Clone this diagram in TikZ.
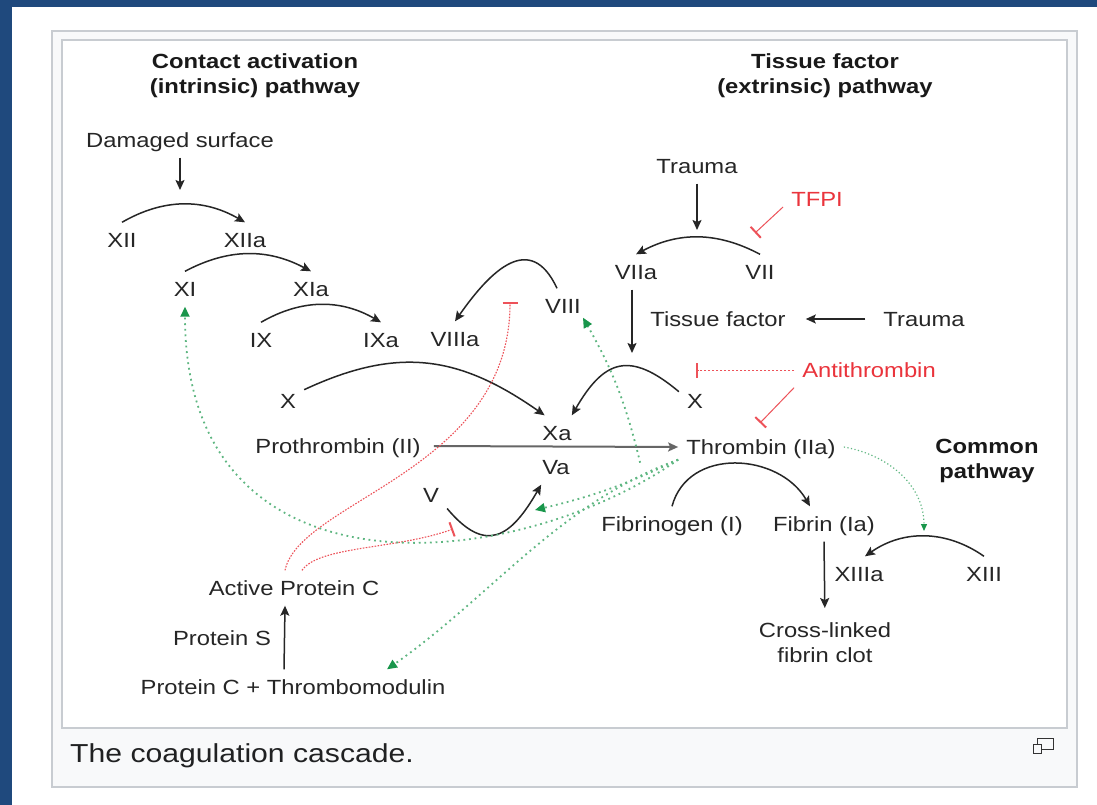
\documentclass[tikz,border=0pt]{standalone}
\usepackage{fontspec}
\setmainfont{Liberation Sans}[FakeStretch=1.16]
\usetikzlibrary{arrows.meta}

\definecolor{frameblue}{RGB}{31,73,125}
\definecolor{boxline}{RGB}{200,204,209}
\definecolor{boxfill}{RGB}{248,249,250}
\definecolor{inhred}{RGB}{234,52,60}
\definecolor{fbgreen}{RGB}{25,150,75}
\definecolor{captext}{RGB}{32,33,34}

\begin{document}
\begin{tikzpicture}[x=1pt, y=1pt,
    fac/.style={font=\fontsize{20.5}{24}\selectfont, text=black!85,
                inner xsep=8pt, inner ysep=10pt, text height=15pt, text depth=0pt},
    hdr/.style={font=\fontsize{20.5}{25}\selectfont\bfseries, text=black!90,
                align=center, inner sep=0pt, anchor=north},
    note/.style={font=\fontsize{20.5}{25}\selectfont, text=black!85,
                 align=center, inner sep=0pt, anchor=north},
    inhlbl/.style={fac, text=inhred},
    conv/.style={-{Stealth[length=10pt,width=9pt,inset=2pt]}, line width=1.5pt, black!85},
    prog/.style={-{Stealth[length=10pt,width=9pt,inset=2pt]}, line width=2pt, black!60},
    inh/.style={-{Bar[width=15pt,line width=2pt]}, line width=1pt, inhred!85},
    inhdot/.style={inh, line width=1.1pt, dash pattern=on 1.6pt off 1.4pt},
    inhdash/.style={inh, dash pattern=on 2.5pt off 1.5pt},
    fbk/.style={-{Triangle[length=10pt,width=9pt,color=fbgreen]}, line width=1.8pt,
                fbgreen!70, dash pattern=on 1.8pt off 3.8pt},
    fbkthin/.style={fbk, -{Triangle[length=7pt,width=6pt,color=fbgreen]},
                    line width=1.2pt, dash pattern=on 1.2pt off 2.4pt}
]

% page and caption frame
\useasboundingbox (0,0) rectangle (1097,-805);
\fill[white] (0,0) rectangle (1097,-805);
\fill[frameblue] (0,0) rectangle (1097,-7);
\fill[frameblue] (0,0) rectangle (12,-805);
\filldraw[fill=boxfill, draw=boxline, line width=1.5pt] (52,-31) rectangle (1077,-787);
\filldraw[fill=white, draw=boxline, line width=1.2pt] (62,-40) rectangle (1067,-728);

% headings
\node[hdr] (hintr) at (255,-53) {Contact activation\\(intrinsic) pathway};
\node[hdr] (hextr) at (825,-53) {Tissue factor\\(extrinsic) pathway};
\node[hdr] (hcomm) at (987,-439) {Common\\pathway};

% intrinsic factors
\node[fac] (dmg) at (180,-140) {Damaged surface};
\node[fac] (xii) at (122,-240) {XII};
\node[fac] (xiia) at (245,-240) {XIIa};
\node[fac] (xi) at (185,-289) {XI};
\node[fac] (xia) at (311,-289) {XIa};
\node[fac] (ix) at (261,-340) {IX};
\node[fac] (ixa) at (381,-340) {IXa};
\node[fac] (viiia) at (455,-339) {VIIIa};
\node[fac] (viii) at (563,-306) {VIII};

% extrinsic factors
\node[fac] (trauma) at (697,-166) {Trauma};
\node[inhlbl] (tfpi) at (817,-199) {TFPI};
\node[fac] (viia) at (636,-272) {VIIa};
\node[fac] (vii) at (760,-272) {VII};
\node[fac] (tf) at (718,-319) {Tissue factor};
\node[fac] (trauma2) at (924,-319) {Trauma};
\node[inhlbl] (antithr) at (869,-370) {Antithrombin};

% common pathway
\node[fac] (xl) at (288,-401) {X};
\node[fac] (xr) at (695,-401) {X};
\node[fac] (xa) at (557,-433) {Xa};
\node[fac] (va) at (556,-467) {Va};
\node[fac] (pro) at (338,-446) {Prothrombin (II)};
\node[fac] (thr) at (761,-447) {Thrombin (IIa)};
\node[fac] (v) at (431,-495) {V};
\node[fac] (fbg) at (672,-524) {Fibrinogen (I)};
\node[fac] (fbn) at (824,-524) {Fibrin (Ia)};
\node[fac] (xiiia) at (859,-574) {XIIIa};
\node[fac] (xiii) at (984,-574) {XIII};
\node[note] (clot) at (825,-622) {Cross-linked\\fibrin clot};

% protein C
\node[fac] (apc) at (294,-588) {Active Protein C};
\node[fac] (ps) at (222,-638) {Protein S};
\node[fac] (pctm) at (293,-687) {Protein C + Thrombomodulin};

% caption
\node[anchor=base west, inner sep=0pt, font=\fontsize{26}{30}\selectfont, text=captext]
    (cap) at (70,-762) {The coagulation cascade.};
\draw[black!80, line width=1pt] (1037,-738) rectangle (1053,-749);
\draw[black!80, line width=1pt, fill=boxfill] (1033,-744) rectangle (1041,-753);

% free ends
\coordinate (xiiact) at (180,-190);
\coordinate (viiact) at (697,-230);
\coordinate (xact) at (632,-353);
\coordinate (tfpiend) at (755,-233);
\coordinate (xblk) at (696,-370);
\coordinate (thrblk) at (760,-423);
\coordinate (viiiblk) at (510,-302);
\coordinate (vblk) at (453,-529);
\coordinate (vaact) at (535,-510);
\coordinate (xiiiact) at (924,-531);
\coordinate (thrfb) at ([yshift=5pt]thr.south west);

% activation arcs
\draw[conv] (dmg.south) -- (xiiact);
\draw[conv] (xii.north) to[out=30,in=150] (xiia.north);
\draw[conv] (xi.north) to[out=28,in=152] (xia.north);
\draw[conv] (ix.north) to[out=30,in=150] (ixa.north);
\draw[conv] ([xshift=-6pt]viii.north) to[out=115,in=55,looseness=1.5] (viiia.north);
\draw[conv] (trauma.south) -- (viiact);
\draw[conv] (vii.north) to[out=152,in=28] (viia.north);
\draw[conv] ([xshift=-4pt]viia.south) -- (xact);
\draw[conv, shorten <=10pt, shorten >=12pt] (trauma2.west) -- (tf.east);
\draw[conv] (xr.150) to[out=140,in=60,looseness=1.5] (xa.50);
\draw[conv] (xl.35) to[out=25,in=145,looseness=1.1] (xa.125);
\draw[prog, shorten <=5pt] (pro.east) -- (thr.west);
\draw[conv] (v.320) to[out=-50,in=-120,looseness=1.6] (va.230);
\draw[conv] (fbg.north) to[out=75,in=120,looseness=1.15] ([xshift=-14pt]fbn.north);
\draw[conv] (xiii.north) to[out=145,in=35] ([xshift=6pt]xiiia.north);
\draw[conv, shorten >=14pt] (fbn.south) -- (clot.north);
\draw[conv] ([xshift=-9pt]pctm.north) -- ([xshift=-9pt]apc.south);

% inhibition
\draw[inh] ([yshift=-8pt]tfpi.west) -- (tfpiend);
\draw[inhdash] (antithr.west) -- (xblk);
\draw[inh] (antithr.south west) -- (thrblk);
\draw[inhdot] ([xshift=-9pt]apc.north) .. controls +(15,70) and +(0,-169) .. (viiiblk);
\draw[inhdot] ([xshift=8pt]apc.north) to[out=55,in=200,out distance=30pt,in distance=60pt] (vblk);

% thrombin feedback
\draw[fbk] (thrfb) to[bend left=6] (vaact);
\draw[fbk] (thrfb) to[out=215,in=270,out distance=200pt,in distance=300pt] (xi.south);
\draw[fbk] (thrfb) to[out=200,in=35,looseness=0.9] ([xshift=94pt]pctm.north);
\draw[fbk] ([xshift=-38pt,yshift=2pt]thr.south west) to[bend right=8] ([xshift=20pt,yshift=6pt]viii.south);
\draw[fbkthin] (thr.east) to[out=-10,in=90] (xiiiact);

\end{tikzpicture}
\end{document}
